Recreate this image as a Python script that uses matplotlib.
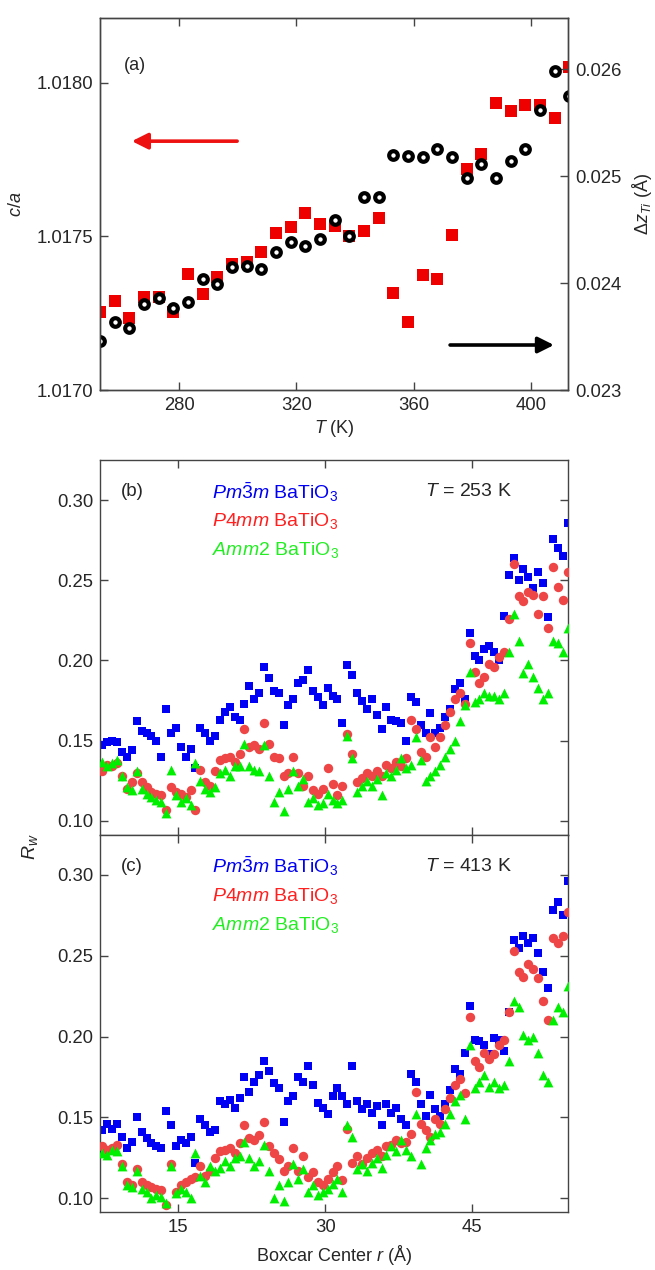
import numpy as np
import matplotlib
matplotlib.use("Agg")
import matplotlib.pyplot as plt

plt.rcParams['font.family'] = ['Liberation Sans', 'DejaVu Sans']
plt.rcParams['mathtext.fontset'] = 'custom'
plt.rcParams['mathtext.rm'] = 'Liberation Sans'
plt.rcParams['mathtext.it'] = 'Liberation Sans:italic'
plt.rcParams['mathtext.bf'] = 'Liberation Sans:bold'

# ---- panel (a): c/a and dz_Ti vs temperature ----
T = [253, 258, 263, 268, 273, 278, 283, 288, 293, 298, 303, 308, 313, 318, 323, 328, 333,
     338, 343, 348, 353, 358, 363, 368, 373, 378, 383, 388, 393, 398, 403, 408, 413]
c_over_a = [1.017253, 1.017290, 1.017235, 1.017302, 1.017302, 1.017253, 1.017378, 1.017312,
            1.017368, 1.017410, 1.017416, 1.017448, 1.017510, 1.017531, 1.017575, 1.017541,
            1.017533, 1.017501, 1.017517, 1.017560, 1.017315, 1.017221, 1.017373, 1.017362,
            1.017503, 1.017720, 1.017768, 1.017933, 1.017906, 1.017927, 1.017927, 1.017885,
            1.018050]
dz_ti = [0.023459, 0.023636, 0.023580, 0.023807, 0.023859, 0.023769, 0.023828, 0.024039,
         0.023993, 0.024148, 0.024157, 0.024132, 0.024294, 0.024387, 0.024343, 0.024412,
         0.024589, 0.024437, 0.024809, 0.024809, 0.025194, 0.025187, 0.025178, 0.025256,
         0.025178, 0.024986, 0.025116, 0.024986, 0.025147, 0.025259, 0.025622, 0.025985,
         0.025746]

# ---- panels (b) and (c): Rw vs boxcar center ----
r = np.arange(7.25, 55.0, 0.5)

b_cubic = [0.147, 0.149, 0.150, 0.149, 0.143, 0.140, 0.144, 0.162,
           0.156, 0.155, 0.153, 0.150, 0.140, 0.170, 0.155, 0.158,
           0.146, 0.140, 0.145, 0.133, 0.158, 0.155, 0.150, 0.153,
           0.163, 0.168, 0.171, 0.165, 0.163, 0.173, 0.184, 0.176,
           0.180, 0.196, 0.189, 0.181, 0.180, 0.160, 0.172, 0.176,
           0.186, 0.188, 0.194, 0.181, 0.177, 0.172, 0.183, 0.178,
           0.176, 0.161, 0.197, 0.191, 0.180, 0.175, 0.170, 0.176,
           0.166, 0.157, 0.171, 0.163, 0.162, 0.161, 0.150, 0.177,
           0.174, 0.160, 0.155, 0.167, 0.155, 0.158, 0.165, 0.170,
           0.182, 0.186, 0.176, 0.217, 0.203, 0.200, 0.207, 0.209,
           0.205, 0.200, 0.228, 0.253, 0.264, 0.250, 0.257, 0.252,
           0.245, 0.255, 0.248, 0.227, 0.276, 0.270, 0.265, 0.286]
b_tetra = [0.131, 0.135, 0.134, 0.136, 0.128, 0.120, 0.124, 0.130,
           0.124, 0.121, 0.118, 0.117, 0.116, 0.107, 0.121, 0.118,
           0.117, 0.115, 0.119, 0.107, 0.132, 0.124, 0.122, 0.131,
           0.138, 0.139, 0.140, 0.137, 0.142, 0.157, 0.146, 0.147,
           0.145, 0.161, 0.148, 0.140, 0.139, 0.128, 0.130, 0.140,
           0.130, 0.122, 0.128, 0.119, 0.117, 0.120, 0.133, 0.123,
           0.116, 0.122, 0.154, 0.142, 0.124, 0.127, 0.130, 0.128,
           0.131, 0.128, 0.135, 0.133, 0.137, 0.134, 0.139, 0.163,
           0.157, 0.143, 0.140, 0.152, 0.146, 0.152, 0.160, 0.168,
           0.176, 0.180, 0.173, 0.211, 0.193, 0.186, 0.190, 0.198,
           0.196, 0.202, 0.205, 0.226, 0.260, 0.240, 0.237, 0.243,
           0.241, 0.229, 0.240, 0.220, 0.258, 0.246, 0.238, 0.255]
b_ortho = [0.137, 0.134, 0.136, 0.138, 0.128, 0.121, 0.119, 0.131,
           0.120, 0.117, 0.115, 0.113, 0.112, 0.105, 0.132, 0.116,
           0.112, 0.114, 0.110, 0.136, 0.125, 0.120, 0.118, 0.121,
           0.130, 0.132, 0.128, 0.134, 0.134, 0.148, 0.134, 0.132,
           0.131, 0.147, 0.128, 0.112, 0.118, 0.106, 0.120, 0.131,
           0.122, 0.126, 0.112, 0.114, 0.110, 0.111, 0.117, 0.113,
           0.111, 0.113, 0.153, 0.139, 0.118, 0.122, 0.125, 0.122,
           0.126, 0.116, 0.130, 0.128, 0.132, 0.139, 0.133, 0.135,
           0.152, 0.138, 0.125, 0.128, 0.131, 0.135, 0.140, 0.145,
           0.150, 0.162, 0.172, 0.193, 0.174, 0.176, 0.180, 0.178,
           0.178, 0.176, 0.180, 0.205, 0.229, 0.212, 0.192, 0.198,
           0.190, 0.183, 0.176, 0.180, 0.212, 0.211, 0.205, 0.220]

c_cubic = [0.142, 0.146, 0.143, 0.146, 0.138, 0.131, 0.135, 0.150,
           0.141, 0.137, 0.134, 0.132, 0.131, 0.154, 0.145, 0.132,
           0.136, 0.134, 0.138, 0.122, 0.149, 0.145, 0.141, 0.142,
           0.160, 0.158, 0.161, 0.156, 0.162, 0.175, 0.166, 0.172,
           0.176, 0.185, 0.179, 0.171, 0.168, 0.147, 0.160, 0.163,
           0.175, 0.172, 0.182, 0.170, 0.159, 0.156, 0.152, 0.163,
           0.168, 0.163, 0.158, 0.182, 0.160, 0.155, 0.158, 0.153,
           0.157, 0.145, 0.158, 0.153, 0.156, 0.149, 0.145, 0.177,
           0.172, 0.158, 0.151, 0.164, 0.155, 0.151, 0.158, 0.167,
           0.180, 0.177, 0.190, 0.219, 0.198, 0.197, 0.195, 0.189,
           0.199, 0.198, 0.191, 0.215, 0.260, 0.255, 0.262, 0.258,
           0.261, 0.252, 0.240, 0.230, 0.278, 0.283, 0.275, 0.296]
c_tetra = [0.132, 0.130, 0.131, 0.133, 0.121, 0.110, 0.108, 0.118,
           0.110, 0.108, 0.107, 0.106, 0.105, 0.096, 0.121, 0.104,
           0.108, 0.110, 0.112, 0.113, 0.120, 0.114, 0.117, 0.125,
           0.129, 0.130, 0.131, 0.128, 0.134, 0.145, 0.137, 0.136,
           0.139, 0.147, 0.132, 0.128, 0.124, 0.117, 0.120, 0.131,
           0.117, 0.126, 0.113, 0.116, 0.110, 0.108, 0.112, 0.116,
           0.120, 0.111, 0.143, 0.122, 0.126, 0.121, 0.125, 0.128,
           0.130, 0.126, 0.132, 0.133, 0.136, 0.134, 0.135, 0.140,
           0.166, 0.146, 0.142, 0.138, 0.149, 0.146, 0.155, 0.162,
           0.170, 0.174, 0.165, 0.212, 0.185, 0.181, 0.190, 0.186,
           0.189, 0.195, 0.198, 0.215, 0.253, 0.240, 0.237, 0.245,
           0.242, 0.236, 0.222, 0.210, 0.261, 0.258, 0.262, 0.277]
c_ortho = [0.128, 0.127, 0.130, 0.129, 0.120, 0.108, 0.107, 0.117,
           0.106, 0.104, 0.100, 0.102, 0.101, 0.097, 0.120, 0.103,
           0.106, 0.104, 0.100, 0.128, 0.114, 0.110, 0.120, 0.117,
           0.119, 0.123, 0.120, 0.125, 0.126, 0.135, 0.125, 0.120,
           0.123, 0.133, 0.117, 0.100, 0.108, 0.098, 0.110, 0.121,
           0.112, 0.118, 0.104, 0.108, 0.102, 0.104, 0.106, 0.109,
           0.112, 0.104, 0.145, 0.138, 0.118, 0.121, 0.117, 0.122,
           0.125, 0.119, 0.127, 0.132, 0.129, 0.136, 0.130, 0.126,
           0.152, 0.121, 0.131, 0.136, 0.140, 0.141, 0.146, 0.152,
           0.160, 0.164, 0.149, 0.195, 0.168, 0.172, 0.176, 0.169,
           0.172, 0.168, 0.170, 0.185, 0.222, 0.218, 0.201, 0.198,
           0.200, 0.190, 0.176, 0.172, 0.210, 0.218, 0.215, 0.231]

phase_labels = [r'$Pm\bar{3}m$ BaTiO$_3$', r'$P$4$mm$ BaTiO$_3$', r'$Amm$2 BaTiO$_3$']
temps = ['253', '413']

BLUE = '#0000f5'
RED = '#ee4646'
GREEN = '#00ee00'
TXT = '#262626'
TICK_FS = 13.3


def style_axis(ax):
    for s in ax.spines.values():
        s.set_color('#444444')
        s.set_linewidth(1.0)
    ax.tick_params(direction='in', length=6, width=1, colors='#444444', pad=5,
                   labelcolor=TXT, labelsize=TICK_FS)


fig = plt.figure(figsize=(6.55, 12.7), dpi=100)

# ---------------- (a) ----------------
ax_a = fig.add_axes([0.1527, 0.6929, 0.7145, 0.2929])
ax_a2 = ax_a.twinx()
ax_a.plot(T, c_over_a, 's', color='#ee0000', ms=8.5, mew=0)
ax_a2.plot(T, dz_ti, 'o', mfc='white', mec='black', mew=3.0, ms=6.2)

ax_a.set_xlim(253, 412.6)
ax_a.set_ylim(1.0170, 1.01821)
ax_a2.set_ylim(0.023, 0.02648)
ax_a.set_xticks([280, 320, 360, 400])
ax_a.set_yticks([1.0170, 1.0175, 1.0180])
ax_a.set_yticklabels(['1.0170', '1.0175', '1.0180'])
ax_a2.set_yticks([0.023, 0.024, 0.025, 0.026])
ax_a2.set_yticklabels(['0.023', '0.024', '0.025', '0.026'])
style_axis(ax_a)
style_axis(ax_a2)
ax_a.tick_params(top=True, right=False)
ax_a2.tick_params(right=True, left=False, top=False)
ax_a.set_xlabel(r'$T$ (K)', fontsize=13, color=TXT, labelpad=3)
ax_a.set_ylabel(r'$c/a$', fontsize=13, color=TXT, labelpad=8)
ax_a2.set_ylabel(r'$\Delta z_{Ti}$ (Å)', fontsize=13, color=TXT, labelpad=6)
ax_a2.text(0.05, 0.86, '(a)', transform=ax_a2.transAxes, fontsize=13, color=TXT)
ax_a2.annotate('', xy=(0.068, 0.669), xytext=(0.293, 0.669), xycoords='axes fraction',
               arrowprops=dict(arrowstyle='-|>', color='#ee1111', lw=2.6, mutation_scale=24,
                               shrinkA=0, shrinkB=0))
ax_a2.annotate('', xy=(0.97, 0.121), xytext=(0.748, 0.121), xycoords='axes fraction',
               arrowprops=dict(arrowstyle='-|>', color='black', lw=2.6, mutation_scale=24,
                               shrinkA=0, shrinkB=0))

# ---------------- (b), (c) ----------------
ax_b = fig.add_axes([0.1527, 0.3429, 0.7145, 0.2949])
ax_c = fig.add_axes([0.1527, 0.0457, 0.7145, 0.2972], sharex=ax_b)

panels = [(ax_b, b_cubic, b_tetra, b_ortho, '(b)', temps[0]),
          (ax_c, c_cubic, c_tetra, c_ortho, '(c)', temps[1])]
for ax, cub, tet, ort, tag, temp in panels:
    ax.scatter(r, cub, marker='s', s=36, color=BLUE, linewidths=0, zorder=2)
    ax.scatter(r, tet, marker='o', s=46, color=RED, linewidths=0, zorder=3)
    ax.scatter(r, ort, marker='^', s=50, color=GREEN, linewidths=0, zorder=4)
    ax.set_xlim(7.0, 54.8)
    ax.set_ylim(0.0915, 0.325)
    ax.set_yticks([0.10, 0.15, 0.20, 0.25, 0.30])
    ax.set_yticklabels(['0.10', '0.15', '0.20', '0.25', '0.30'])
    ax.set_xticks([15, 30, 45])
    style_axis(ax)
    ax.tick_params(top=True, right=True)
    ax.text(0.045, 0.915, tag, transform=ax.transAxes, fontsize=13.5, color=TXT, va='center')
    for i, (lab, col) in enumerate(zip(phase_labels, [BLUE, '#ff2020', '#22ee22'])):
        ax.text(0.24, 0.915 - i * 0.077, lab, transform=ax.transAxes, fontsize=14,
                color=col, va='center')
    ax.text(0.695, 0.915, r'$T$ = ' + temp + ' K', transform=ax.transAxes, fontsize=14,
            color=TXT, va='center')

ax_b.tick_params(labelbottom=False)
ax_c.set_xlabel(r'Boxcar Center $r$ (Å)', fontsize=13, color=TXT, labelpad=5)
fig.text(0.046, 0.333, r'$R_w$', fontsize=14, color=TXT, rotation=90, va='center', ha='center')

fig.savefig('out.png', dpi=100)
